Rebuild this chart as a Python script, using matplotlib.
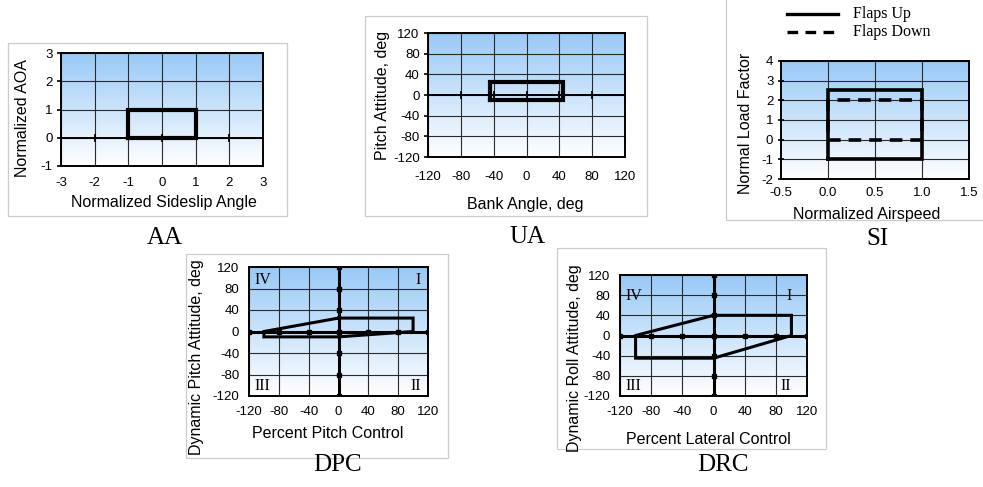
import matplotlib
matplotlib.use("Agg")
import matplotlib.pyplot as plt
import numpy as np
from matplotlib.patches import Rectangle
from matplotlib.colors import LinearSegmentedColormap

plt.rcParams['font.family'] = ['Liberation Sans', 'DejaVu Sans']
plt.rcParams['axes.unicode_minus'] = False

# envelope outlines for each test
aa_x = [-1, 1, 1, -1, -1]
aa_y = [0, 0, 1, 1, 0]

ua_x = [-45, 45, 45, -45, -45]
ua_y = [-10, -10, 25, 25, -10]

si_up_x = [0, 1, 1, 0, 0]
si_up_y = [-1, -1, 2.5, 2.5, -1]
si_down_x = [0, 1, 1, 0, 0]
si_down_y = [0, 0, 2, 2, 0]

dpc_x = [0, 100, 100, 0, -100, -100, 0]
dpc_y = [25, 25, 0, -10, -10, 0, 25]

drc_x = [0, 100, 100, 0, -100, -100, 0]
drc_y = [40, 40, 0, -45, -45, 0, 40]

deg_ticks = [-120, -80, -40, 0, 40, 80, 120]

W, H = 983, 487
fig = plt.figure(figsize=(W / 100, H / 100), dpi=100)
sky = LinearSegmentedColormap.from_list('sky', ['#ffffff', '#98c9f7'])


def px_axes(x0, y0, x1, y1):
    return fig.add_axes([x0 / W, 1 - y1 / H, (x1 - x0) / W, (y1 - y0) / H])


def frame(x0, y0, x1, y1):
    fig.add_artist(Rectangle((x0 / W, 1 - y1 / H), (x1 - x0) / W, (y1 - y0) / H,
                             transform=fig.transFigure, fill=False,
                             ec='#cccccc', lw=0.9))


def ftext(x, y, s, **kw):
    fig.text(x / W, 1 - y / H, s, ha='center', va='center', **kw)


def setup(ax, xlim, ylim, xt, yt, xgrid=None, ygrid=None):
    grad = np.linspace(0, 1, 256).reshape(-1, 1)
    ax.imshow(grad, cmap=sky, origin='lower', aspect='auto',
              extent=[xlim[0], xlim[1], ylim[0], ylim[1]], zorder=0)
    ax.set_xlim(xlim)
    ax.set_ylim(ylim)
    ax.set_xticks(xt)
    ax.set_yticks(yt)
    for g in (xgrid if xgrid is not None else xt):
        ax.axvline(g, color='#2a2a2a', lw=0.8, zorder=1)
    for g in (ygrid if ygrid is not None else yt):
        ax.axhline(g, color='#2a2a2a', lw=0.8, zorder=1)
    for s in ax.spines.values():
        s.set_linewidth(1.4)
        s.set_zorder(4)
    ax.tick_params(axis='x', length=0, pad=8, labelsize=9.5)
    ax.tick_params(axis='y', length=3, width=1.2, pad=3, labelsize=9.5)


LBL = 11.5
NAME = dict(fontsize=18, family='Liberation Serif')

# AA
frame(8, 43, 287, 216)
ax = px_axes(61, 53, 263, 166)
setup(ax, (-3, 3), (-1, 3), range(-3, 4), range(-1, 4))
ax.plot([-3, 3], [0, 0], color='black', lw=1.4, zorder=2)
ax.plot([-2, 0, 2], [0, 0, 0], ls='none', marker='|', ms=6, mew=1.3, color='black', zorder=2)
ax.plot(aa_x, aa_y, color='black', lw=3, zorder=3, solid_joinstyle='miter')
ftext(164, 202, 'Normalized Sideslip Angle', fontsize=LBL)
ftext(23, 118, 'Normalized AOA', fontsize=LBL, rotation=90)
ftext(165, 238, 'AA', **NAME)

# UA
frame(365, 16, 647, 216)
ax = px_axes(428, 33, 625, 157)
setup(ax, (-120, 120), (-120, 120), deg_ticks, deg_ticks)
ax.tick_params(axis='x', pad=10)
ax.plot([-120, 120], [0, 0], color='black', lw=1.4, zorder=2)
ax.plot(deg_ticks[1:-1], [0] * 5, ls='none', marker='|', ms=6, mew=1.3, color='black', zorder=2)
ax.plot(ua_x, ua_y, color='black', lw=3, zorder=3, solid_joinstyle='miter')
ftext(525, 204, 'Bank Angle, deg', fontsize=LBL)
ftext(382, 95, 'Pitch Attitude, deg', fontsize=LBL, rotation=90)
ftext(527, 237, 'UA', **NAME)

# SI
frame(726, -10, 995, 220)
ax = px_axes(781, 61, 969, 179)
setup(ax, (-0.5, 1.5), (-2, 4), [-0.5, 0, 0.5, 1.0, 1.5], range(-2, 5),
      xgrid=[0, 0.5, 1.0])
ax.set_xticklabels(['-0.5', '0.0', '0.5', '1.0', '1.5'])
ax.tick_params(axis='y', direction='inout', length=5)
ax.tick_params(axis='x', pad=6)
ax.plot(si_down_x, si_down_y, color='black', lw=2.6, ls=(0, (3.5, 2.2)), zorder=3)
ax.plot(si_up_x, si_up_y, color='black', lw=2.6, zorder=3, solid_joinstyle='miter')
ftext(867, 215, 'Normalized Airspeed', fontsize=LBL)
ftext(745, 123, 'Normal Load Factor', fontsize=LBL, rotation=90)
ftext(877, 239, 'SI', **NAME)

# legend above the SI plot
fig.add_artist(plt.Line2D([787 / W, 838 / W], [1 - 14 / H, 1 - 14 / H], color='black', lw=2.4))
fig.add_artist(plt.Line2D([787 / W, 838 / W], [1 - 32 / H, 1 - 32 / H], color='black', lw=2.4,
                          ls=(0, (3.2, 2.2))))
fig.text(853 / W, 1 - 14 / H, 'Flaps Up', ha='left', va='center', fontsize=11.5,
         family='Liberation Serif')
fig.text(853 / W, 1 - 32 / H, 'Flaps Down', ha='left', va='center', fontsize=11.5,
         family='Liberation Serif')


def quadrants(ax, top, bottom, left, right):
    kw = dict(fontsize=11.5, family='Liberation Serif', zorder=5, va='center')
    ax.text(left, top, 'IV', ha='left', **kw)
    ax.text(right, top, 'I', ha='right', **kw)
    ax.text(left, bottom, 'III', ha='left', **kw)
    ax.text(right, bottom, 'II', ha='right', **kw)


def cross_axes(ax):
    ax.plot([-120, 120], [0, 0], color='black', lw=2.2, zorder=2)
    ax.plot([0, 0], [-120, 120], color='black', lw=2.2, zorder=2)
    ax.plot(deg_ticks, [0] * 7, ls='none', marker='s', ms=3, color='black', zorder=2)
    ax.plot([0] * 7, deg_ticks, ls='none', marker='s', ms=3, color='black', zorder=2)


# DPC
frame(186, 254, 448, 458)
ax = px_axes(249, 267, 428, 396)
setup(ax, (-120, 120), (-120, 120), deg_ticks, deg_ticks)
ax.tick_params(axis='y', length=0, pad=7)
ax.tick_params(axis='x', pad=7)
cross_axes(ax)
ax.plot(dpc_x, dpc_y, color='black', lw=2.2, zorder=3, solid_joinstyle='miter')
quadrants(ax, 95, -102, -113, 110)
ftext(328, 434, 'Percent Pitch Control', fontsize=LBL)
ftext(197, 357, 'Dynamic Pitch Attitude, deg', fontsize=LBL, rotation=90)
ftext(338, 465, 'DPC', **NAME)

# DRC
frame(557, 248, 826, 449)
ax = px_axes(620, 275, 807, 396)
setup(ax, (-120, 120), (-120, 120), deg_ticks, deg_ticks)
ax.tick_params(axis='y', length=0, pad=7)
ax.tick_params(axis='x', pad=7)
cross_axes(ax)
ax.plot(drc_x, drc_y, color='black', lw=2.2, zorder=3, solid_joinstyle='miter')
quadrants(ax, 78, -100, -113, 100)
ftext(708, 440, 'Percent Lateral Control', fontsize=LBL)
ftext(574, 358, 'Dynamic Roll Attitude, deg', fontsize=LBL, rotation=90)
ftext(723, 465, 'DRC', **NAME)

fig.savefig('out.png', dpi=100)
